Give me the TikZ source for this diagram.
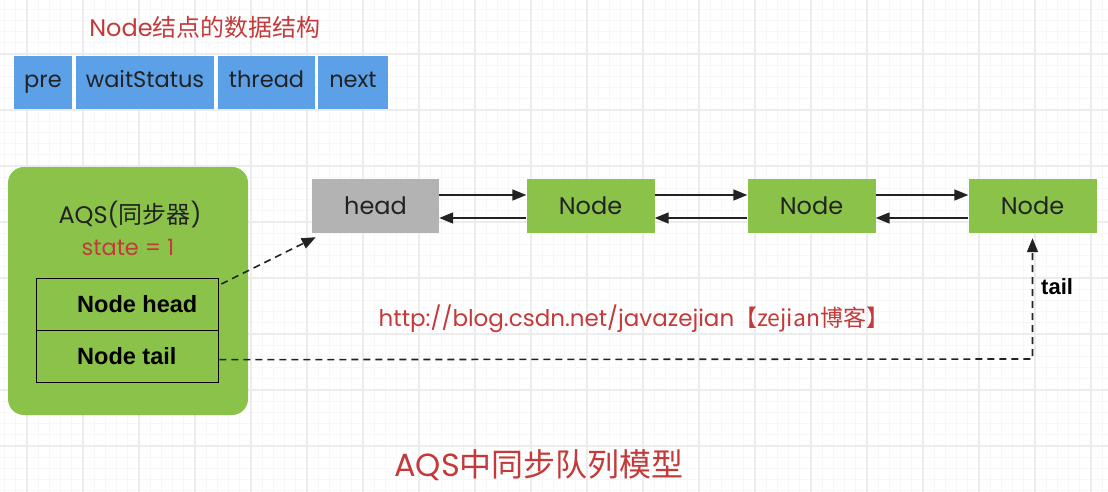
\documentclass[tikz,border=0pt]{standalone}
\usepackage{fontspec}
\setmainfont{Poppins}
\newfontfamily\cjk{Noto Sans CJK SC}
\newfontfamily\hbold{Liberation Sans}
\usetikzlibrary{arrows.meta}
\definecolor{redtxt}{RGB}{196,58,58}
\definecolor{boxblue}{RGB}{92,160,232}
\definecolor{boxgreen}{RGB}{139,195,74}
\definecolor{boxgray}{RGB}{179,179,179}
\definecolor{minorgrid}{RGB}{247,247,247}
\definecolor{majorgrid}{RGB}{236,236,236}
\definecolor{inkdark}{RGB}{34,34,34}
\newcommand{\zhtxt}[1]{{\cjk #1}}
\tikzset{
  field/.style={fill=boxblue, draw=none, minimum height=53pt, inner sep=0pt, font=\fontsize{22.5}{26}\selectfont, text=inkdark, text height=16pt, text depth=5pt},
  qnode/.style={fill=boxgreen, draw=none, minimum width=128pt, minimum height=54pt, inner sep=0pt, font=\fontsize{24}{28}\selectfont, text=inkdark},
  cell/.style={draw=black, line width=1.3pt, minimum width=182pt, minimum height=52pt, inner sep=0pt, anchor=north west},
  celltext/.style={font=\hbold\bfseries\fontsize{23.5}{27}\selectfont, text=black, anchor=west, inner sep=0pt},
  link/.style={draw=inkdark, line width=1.6pt, -{Triangle[length=14pt,width=11pt]}},
  dlink/.style={draw=inkdark, line width=1.6pt, dash pattern=on 7pt off 5pt, -{Triangle[length=14pt,width=11pt]}},
  redlabel/.style={text=redtxt, inner sep=0pt},
}
\begin{document}
\begin{tikzpicture}[x=1pt,y=-1pt]
\useasboundingbox (0,0) rectangle (1108,492);
\fill[white] (0,0) rectangle (1108,492);
% grid
\foreach \i in {0,...,104} \draw[minorgrid, line width=0.8pt] ({-29+11.2*\i},0) -- ({-29+11.2*\i},492);
\foreach \i in {0,...,46} \draw[minorgrid, line width=0.8pt] (0,{-2+11.2*\i}) -- (1108,{-2+11.2*\i});
\foreach \i in {0,...,20} \draw[majorgrid, line width=1.2pt] ({27+56*\i},0) -- ({27+56*\i},492);
\foreach \i in {0,...,8} \draw[majorgrid, line width=1.2pt] (0,{-2+56*\i}) -- (1108,{-2+56*\i});

% Node data structure
\node[redlabel, font=\fontsize{24}{28}\selectfont] (title) at (205,27) {Node\zhtxt{结点的数据结构}};
\node[field, minimum width=58pt] (pre) at (43,82.5) {pre};
\node[field, minimum width=138pt] (ws) at (145,82.5) {waitStatus};
\node[field, minimum width=97pt] (thr) at (266.5,82.5) {thread};
\node[field, minimum width=70pt] (nxt) at (353,82.5) {next};

% AQS box
\node[fill=boxgreen, rounded corners=16pt, minimum width=240pt, minimum height=248pt, inner sep=0pt] (aqs) at (128,291) {};
\node[inner sep=0pt, font=\fontsize{24}{28}\selectfont, text=inkdark] (aqstitle) at (130,215) {AQS(\zhtxt{同步器})};
\node[redlabel, font=\fontsize{22.5}{26}\selectfont] (state) at (128,247) {state = 1};
\node[cell] (nhbox) at (36,278) {};
\node[cell] (ntbox) at (36,330) {};
\node[celltext] (nh) at (77,304) {Node head};
\node[celltext] (nt) at (77,356) {Node tail};

% queue
\node[qnode, fill=boxgray, minimum width=127pt] (head) at (375.5,206) {head};
\node[qnode] (n1) at (590.5,206) {Node};
\node[qnode] (n2) at (811.5,206) {Node};
\node[qnode] (n3) at (1032.5,206) {Node};

\foreach \a/\b in {head/n1, n1/n2, n2/n3} {
  \draw[link] ([yshift=11pt]\a.east) -- ([yshift=11pt]\b.west);
  \draw[link] ([yshift=-12pt]\b.west) -- ([yshift=-12pt]\a.east);
}

% dashed pointers
\draw[dlink] ([xshift=2pt,yshift=-6pt]nhbox.north east) -- ([xshift=4pt,yshift=-4pt]head.south west);
\coordinate (tailcorner) at (1032.5,359);
\draw[dlink] ([yshift=-3pt]ntbox.east) -- (tailcorner) -- ([yshift=-5pt]n3.south);
\node[font=\hbold\bfseries\fontsize{22}{26}\selectfont, anchor=west, inner sep=0pt] (taillbl) at (1041,287) {tail};

% labels
\node[redlabel, font=\fontsize{23}{27}\selectfont] (url) at (634,319) {http://blog.csdn.net/javazejian\zhtxt{【zejian博客】}};
\node[redlabel, font=\fontsize{32}{38}\selectfont] (caption) at (539,465) {AQS\zhtxt{中同步队列模型}};
\end{tikzpicture}
\end{document}
